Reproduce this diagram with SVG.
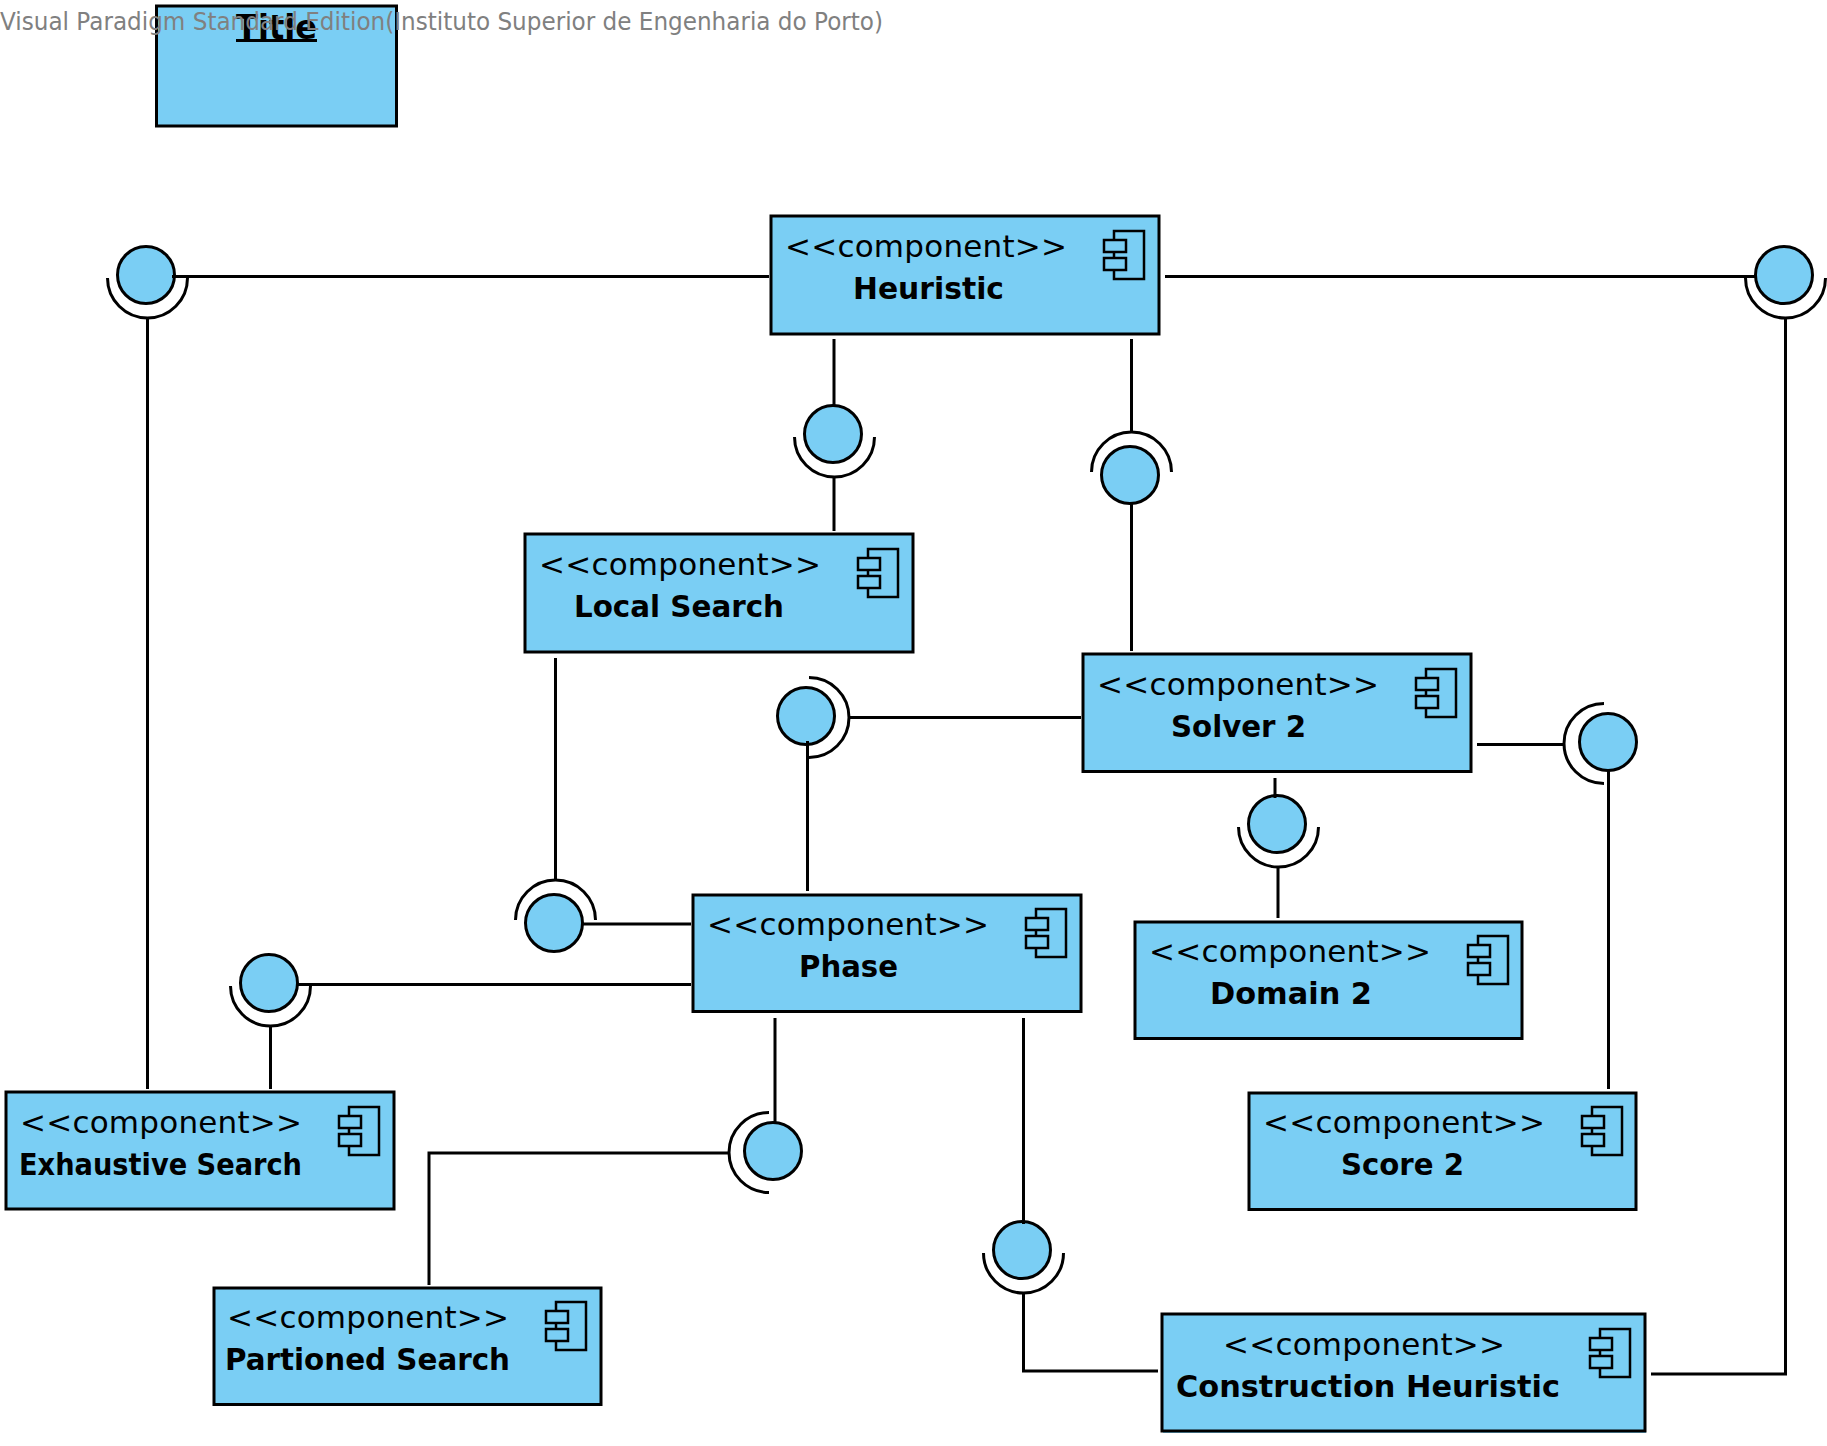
<svg xmlns="http://www.w3.org/2000/svg" width="1827" height="1446" viewBox="0 0 1827 1446">
<style>
.f{fill:#7aceF4}
.b{fill:none;stroke:#000;stroke-width:3}
.i{fill:#7aceF4;stroke:#000;stroke-width:3}
.c{fill:none;stroke:#000;stroke-width:3}
.k{fill:none;stroke:#000;stroke-width:2.500}
.m{fill:#7aceF4;stroke:#000;stroke-width:2.500}
.s{font:31px "DejaVu Sans",sans-serif;fill:#000}
.n{font:bold 31px "DejaVu Sans",sans-serif;fill:#000}
</style>
<defs>
<g id="icon"><rect class="k" x="10" y="0" width="30" height="48"/><rect class="m" x="0" y="9" width="22" height="12"/><rect class="m" x="0" y="27" width="22" height="12"/></g>
</defs>
<rect id="bg" width="1827" height="1446" fill="#fff"/>
<g id="title-node"><rect class="f" x="157.500" y="7" width="240" height="120"/><rect class="b" x="156.500" y="6" width="240" height="120"/><text class="n" x="236" y="39" style="font-size:33px" textLength="81" lengthAdjust="spacingAndGlyphs">Title</text><path d="M236 40.500H317" stroke="#000" stroke-width="3"/></g>
<g id="heuristic"><rect class="f" x="772" y="217" width="388" height="118"/><rect class="b" x="771" y="216" width="388" height="118"/><text class="s" x="785" y="257" textLength="282">&lt;&lt;component&gt;&gt;</text><text class="n" x="853" y="299" textLength="151" lengthAdjust="spacingAndGlyphs">Heuristic</text><use href="#icon" x="1104" y="231"/></g>
<g id="local-search"><rect class="f" x="526" y="535" width="388" height="118"/><rect class="b" x="525" y="534" width="388" height="118"/><text class="s" x="539" y="575" textLength="282">&lt;&lt;component&gt;&gt;</text><text class="n" x="574" y="617" textLength="210" lengthAdjust="spacingAndGlyphs">Local Search</text><use href="#icon" x="858" y="549"/></g>
<g id="solver-2"><rect class="f" x="1084" y="655" width="388" height="118"/><rect class="b" x="1083" y="654" width="388" height="117.500"/><text class="s" x="1097" y="695" textLength="282">&lt;&lt;component&gt;&gt;</text><text class="n" x="1171" y="737" textLength="135" lengthAdjust="spacingAndGlyphs">Solver 2</text><use href="#icon" x="1416" y="669"/></g>
<g id="phase"><rect class="f" x="694" y="896" width="388" height="117"/><rect class="b" x="693" y="895" width="388" height="116.500"/><text class="s" x="707" y="935" textLength="282">&lt;&lt;component&gt;&gt;</text><text class="n" x="799" y="977" textLength="99" lengthAdjust="spacingAndGlyphs">Phase</text><use href="#icon" x="1026" y="909"/></g>
<g id="domain-2"><rect class="f" x="1136" y="923" width="387" height="117"/><rect class="b" x="1135" y="922" width="387" height="116.500"/><text class="s" x="1149" y="962" textLength="282">&lt;&lt;component&gt;&gt;</text><text class="n" x="1210" y="1004" textLength="162" lengthAdjust="spacingAndGlyphs">Domain 2</text><use href="#icon" x="1468" y="936"/></g>
<g id="score-2"><rect class="f" x="1250" y="1094" width="387" height="117"/><rect class="b" x="1249" y="1093" width="387" height="116.500"/><text class="s" x="1263" y="1133" textLength="282">&lt;&lt;component&gt;&gt;</text><text class="n" x="1341" y="1175" textLength="123" lengthAdjust="spacingAndGlyphs">Score 2</text><use href="#icon" x="1582" y="1107"/></g>
<g id="exhaustive-search"><rect class="f" x="7" y="1093" width="388" height="117"/><rect class="b" x="6" y="1092" width="388" height="117"/><text class="s" x="20" y="1133" textLength="282">&lt;&lt;component&gt;&gt;</text><text class="n" x="19" y="1175" textLength="283" lengthAdjust="spacingAndGlyphs">Exhaustive Search</text><use href="#icon" x="339" y="1107"/></g>
<g id="partioned-search"><rect class="f" x="215" y="1289" width="387" height="117"/><rect class="b" x="214" y="1288" width="387" height="116.500"/><text class="s" x="227" y="1328" textLength="282">&lt;&lt;component&gt;&gt;</text><text class="n" x="225" y="1370" textLength="285" lengthAdjust="spacingAndGlyphs">Partioned Search</text><use href="#icon" x="546" y="1302"/></g>
<g id="construction-heuristic"><rect class="f" x="1163" y="1315" width="483" height="118"/><rect class="b" x="1162" y="1314" width="483" height="117"/><text class="s" x="1223" y="1355" textLength="282">&lt;&lt;component&gt;&gt;</text><text class="n" x="1176" y="1397" textLength="384" lengthAdjust="spacingAndGlyphs">Construction Heuristic</text><use href="#icon" x="1590" y="1329"/></g>
<g id="iface-1"><circle class="i" cx="146" cy="275" r="28.500"/><path class="c" d="M107.500 278A40 40 0 0 0 187.500 278"/></g>
<g id="iface-2"><circle class="i" cx="1784" cy="275" r="28.500"/><path class="c" d="M1745.500 278A40 40 0 0 0 1825.500 278"/></g>
<g id="iface-3"><circle class="i" cx="833" cy="434" r="28.500"/><path class="c" d="M794.500 437A40 40 0 0 0 874.500 437"/></g>
<g id="iface-4"><circle class="i" cx="1130" cy="475" r="28.500"/><path class="c" d="M1091.500 472A40 40 0 0 1 1171.500 472"/></g>
<g id="iface-5"><circle class="i" cx="806" cy="716" r="28.500"/><path class="c" d="M809 677.500A40 40 0 0 1 809 757.500"/></g>
<g id="iface-6"><circle class="i" cx="554" cy="923" r="28.500"/><path class="c" d="M515.500 920A40 40 0 0 1 595.500 920"/></g>
<g id="iface-7"><circle class="i" cx="269" cy="983" r="28.500"/><path class="c" d="M230.500 986A40 40 0 0 0 310.500 986"/></g>
<g id="iface-8"><circle class="i" cx="773" cy="1151" r="28.500"/><path class="c" d="M769 1112.500A40 40 0 0 0 769 1192.500"/></g>
<g id="iface-9"><circle class="i" cx="1022" cy="1250" r="28.500"/><path class="c" d="M983.500 1253A40 40 0 0 0 1063.500 1253"/></g>
<g id="iface-10"><circle class="i" cx="1608" cy="742" r="28.500"/><path class="c" d="M1604 703.500A40 40 0 0 0 1604 783.500"/></g>
<g id="iface-11"><circle class="i" cx="1277" cy="824" r="28.500"/><path class="c" d="M1238.500 827A40 40 0 0 0 1318.500 827"/></g>
<g id="connectors" fill="none" stroke="#000" stroke-width="3">
<path d="M172 276.500H769M147.500 318V1089"/>
<path d="M1165 276.500H1757M1785.500 319V1374H1651"/>
<path d="M834 339V407M834 477V531"/>
<path d="M1131.500 339V432M1131.500 503V651"/>
<path d="M850 717.500H1081M807.500 741V891"/>
<path d="M555.500 658V880M582 924H691"/>
<path d="M297 984.500H691M270.500 1026V1089"/>
<path d="M775 1018V1124M729 1153H429V1285"/>
<path d="M1023.500 1018V1224M1023.500 1293V1371H1158"/>
<path d="M1477 744.500H1564M1608.500 770V1089"/>
<path d="M1275 778V798M1278 867V918"/>
</g>
<text id="watermark" x="0" y="30" font-family="DejaVu Sans,sans-serif" font-size="24.500" fill="#808080" textLength="883" lengthAdjust="spacingAndGlyphs">Visual Paradigm Standard Edition(Instituto Superior de Engenharia do Porto)</text>
</svg>
